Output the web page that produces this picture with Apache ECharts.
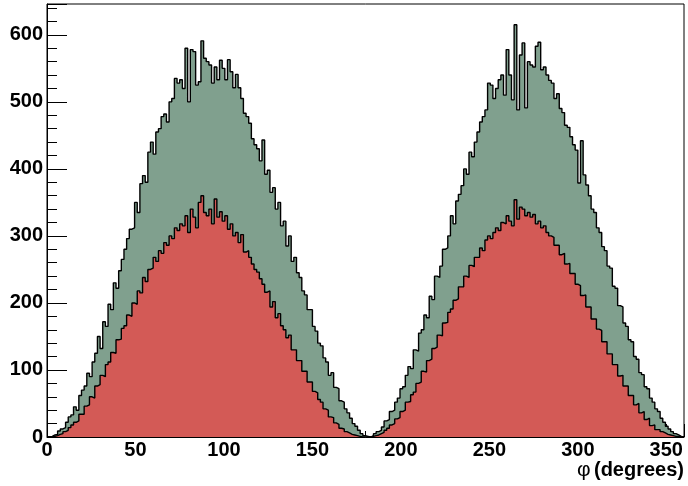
<!DOCTYPE html>
<html>
<head>
<meta charset="utf-8">
<script src="https://cdn.jsdelivr.net/npm/echarts@6/dist/echarts.min.js"></script>
<style>
html,body{margin:0;padding:0;background:#fff;}
#chart{width:688px;height:486px;}
</style>
</head>
<body>
<div id="chart"></div>
<script>
// Histogram: 240 bins of 1.5 degrees from 0 to 360
const phiMin = 0;
const phiMax = 360;
const binWidth = 1.5;

// Total (green) histogram contents
const totalCounts = [
0,1,3,4,9,12,14,22,30,33,
45,40,62,70,76,95,90,112,125,150,
132,172,165,198,190,230,222,248,265,280,
296,310,312,350,335,378,390,380,425,440,
422,455,460,478,482,470,500,505,535,528,
533,520,580,500,578,575,525,530,591,565,
560,555,528,552,533,562,550,533,563,545,
521,541,521,505,483,478,468,445,436,430,
412,443,392,398,365,372,340,350,315,322,
285,300,262,268,245,238,218,212,190,190,
165,158,140,136,118,112,92,96,74,72,
54,52,42,36,28,20,16,10,5,2,
1,0,2,5,8,10,15,24,26,38,
40,52,58,72,75,92,105,102,130,128,
155,160,182,178,210,205,240,238,255,280,
282,300,330,318,352,362,375,400,392,425,
418,440,455,470,478,488,528,525,505,520,
533,540,510,578,540,503,615,488,570,588,
491,560,555,552,583,589,548,552,540,532,
528,505,512,490,484,465,462,448,436,428,
379,442,391,376,360,340,335,312,305,284,
278,255,252,225,222,196,194,170,165,145,
142,120,116,96,93,75,72,58,52,42,
38,28,22,16,12,8,5,3,1,0
];

// Subset (red) histogram contents
const subsetCounts = [
0,0,1,2,4,5,8,10,14,18,
22,24,34,34,46,48,60,58,76,78,
92,90,108,112,126,125,145,146,162,166,
182,180,200,198,218,215,238,232,250,252,
268,262,278,274,290,286,300,296,312,308,
318,315,330,305,340,328,312,350,360,335,
330,340,318,355,328,336,322,330,310,318,
300,305,290,302,276,278,268,258,250,246,
236,228,216,218,194,202,178,184,166,160,
148,152,130,130,114,114,98,98,82,82,
68,66,56,52,42,40,30,29,21,19,
13,12,8,6,4,3,2,1,0,0,
0,0,1,2,3,5,7,10,13,18,
20,27,29,38,40,52,53,63,67,80,
82,98,97,114,116,132,134,152,151,170,
171,186,191,204,206,224,224,240,238,256,
254,268,268,282,278,294,300,296,305,312,
308,320,318,330,322,315,354,325,343,340,
330,335,328,332,318,322,312,315,305,300,
298,286,286,272,274,258,259,244,244,228,
226,211,212,194,194,176,176,161,159,142,
142,124,124,108,108,91,92,76,76,62,
62,48,50,36,38,26,28,17,18,11,
11,8,6,4,3,2,1,1,0,0
];

const yTicks = [0,100,200,300,400,500,600];
const xTicks = [0,50,100,150,200,250,300,350];

function stepData(counts){
  const out = [];
  for (let i = 0; i < counts.length; i++) {
    out.push([phiMin + i * binWidth, counts[i]]);
  }
  out.push([phiMax, counts[counts.length - 1]]);
  return out;
}

const chart = echarts.init(document.getElementById('chart'), null, {renderer:'canvas'});
const labelFont = {color:'#000', fontFamily:'Liberation Sans, Arial, sans-serif', fontWeight:'bold', fontSize:20};

chart.setOption({
  animation:false,
  backgroundColor:'#fff',
  grid:{left:47, right:4, top:4, bottom:49, show:true, borderColor:'#000', borderWidth:1, backgroundColor:'transparent'},
  xAxis:{
    type:'value', min:phiMin, max:phiMax, interval:50,
    axisLine:{show:true, lineStyle:{color:'#000', width:1}},
    axisTick:{show:true, inside:true, length:13, lineStyle:{color:'#000'}},
    minorTick:{show:true, splitNumber:5, length:6, lineStyle:{color:'#000'}},
    splitLine:{show:false},
    axisLabel:Object.assign({margin:3, showMaxLabel:false, formatter:function(v){return xTicks.indexOf(v)>=0?String(v):'';}}, labelFont)
  },
  yAxis:{
    type:'value', min:0, max:646, interval:100,
    axisLine:{show:true, lineStyle:{color:'#000', width:1}},
    axisTick:{show:true, inside:true, length:20, lineStyle:{color:'#000'}},
    minorTick:{show:true, splitNumber:5, length:10, lineStyle:{color:'#000'}},
    splitLine:{show:false},
    axisLabel:Object.assign({margin:4, showMaxLabel:false, formatter:function(v){return yTicks.indexOf(v)>=0?String(v):'';}}, labelFont)
  },
  graphic:[{
    type:'text', right:4, top:460,
    style:{
      text:'{p|φ} {b|(degrees)}',
      rich:{
        p:{fontFamily:'Liberation Sans, Arial, sans-serif', fontSize:21, fill:'#000', fontWeight:'normal'},
        b:{fontFamily:'Liberation Sans, Arial, sans-serif', fontSize:20, fill:'#000', fontWeight:'bold'}
      }
    }
  }],
  series:[
    {
      name:'total', type:'line', step:'end', data:stepData(totalCounts),
      symbol:'none', z:2,
      lineStyle:{color:'#000', width:1.4},
      areaStyle:{color:'#80a08e', opacity:1}
    },
    {
      name:'subset', type:'line', step:'end', data:stepData(subsetCounts),
      symbol:'none', z:3,
      lineStyle:{color:'#000', width:1.4},
      areaStyle:{color:'#d35a56', opacity:1}
    }
  ]
});
</script>
</body>
</html>
